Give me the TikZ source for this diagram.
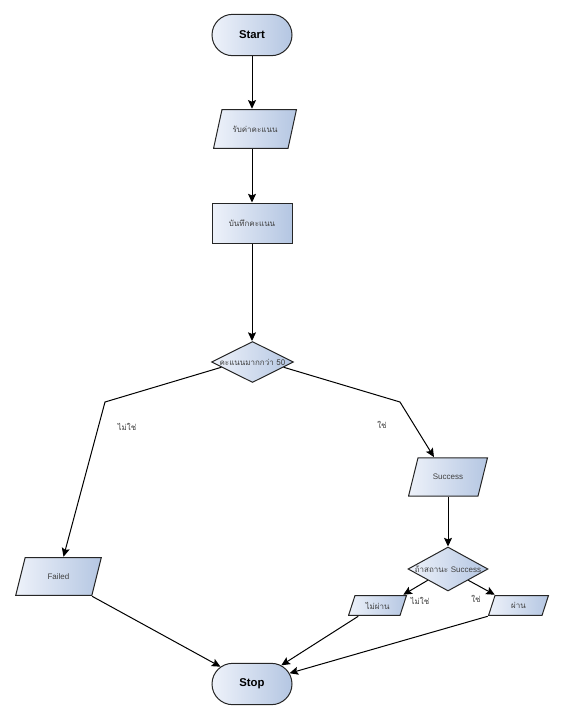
\documentclass[tikz,border=0pt]{standalone}
\usepackage{fontspec}
\setmainfont{Liberation Sans}
\newfontfamily\thai[Script=Thai]{Loma}
\usetikzlibrary{shapes.geometric,shapes.misc,arrows.meta,calc}
\definecolor{fillL}{HTML}{EEF2FA}
\definecolor{fillR}{HTML}{B4C6E2}
\definecolor{txt}{HTML}{404040}
\begin{document}
\begin{tikzpicture}[x=0.75pt,y=-0.75pt,
  base/.style={draw=black!85, line width=0.75pt, left color=fillL, right color=fillR,
               inner sep=0pt, font=\thai\fontsize{6}{7}\selectfont, text=txt},
  term/.style={base, rounded rectangle, minimum width=60pt, minimum height=31pt,
               font=\fontsize{8.5}{10}\selectfont\bfseries, text=black},
  proc/.style={base, rectangle, minimum width=60pt, minimum height=30pt},
  io/.style n args={3}{inner sep=0pt, minimum width=#1, minimum height=#2,
      font=\thai\fontsize{6}{7}\selectfont, text=txt,
      path picture={\path[draw=black!85, line width=0.75pt, left color=fillL, right color=fillR]
        ([shift={(#3,-0.4pt)}]path picture bounding box.north west)
        -- ([shift={(-0.4pt,-0.4pt)}]path picture bounding box.north east)
        -- ([shift={(-#3,0.4pt)}]path picture bounding box.south east)
        -- ([shift={(0.4pt,0.4pt)}]path picture bounding box.south west) -- cycle;}},
  dec/.style={base, diamond},
  conn/.style={line width=0.75pt, -{Stealth[length=6.5pt,width=6pt,inset=1.2pt]}},
  lab/.style={font=\thai\fontsize{6}{7}\selectfont, text=txt}
]
\fill[white] (0,0) rectangle (564,718);
\useasboundingbox (0,0) rectangle (564,718);

\node[term] (start) at (252,35) {Start};
\node[io={63pt}{30pt}{6.75pt}] (input) at (255,129) {รับค่าคะแนน};
\node[proc] (process) at (252,223) {บันทึกคะแนน};
\node[dec, minimum width=61.5pt, minimum height=30.75pt,
      label={[lab]center:คะแนนมากกว่า 50}] (d1) at (252.5,362) {};
\node[io={60pt}{29.5pt}{7.5pt}] (success) at (448,477) {\rmfamily Success};
\node[io={65pt}{29.25pt}{7.5pt}] (failed) at (58.5,576.5) {\rmfamily Failed};
\node[dec, minimum width=60pt, minimum height=33pt,
      label={[lab]center:ถ้าสถานะ {\rmfamily Success}}] (d2) at (448,569) {};
\node[io={44.25pt}{15.75pt}{5.25pt}] (nopass) at (377.5,605.5) {ไม่ผ่าน};
\node[io={45.75pt}{15.75pt}{5.25pt}] (pass) at (518.5,605.5) {ผ่าน};
\node[term] (stop) at (252,684) {Stop};

\coordinate (b1) at (105,402);
\coordinate (b2) at (400,402);

\draw[conn] (start.south) -- (start.south |- input.north);
\draw[conn] (process.north |- input.south) -- (process.north);
\draw[conn] (process.south) -- (process.south |- d1.north);
\draw[conn] ($(d1.west)!0.25!(d1.south)$) -- (b1) -- ([xshift=3.75pt]failed.north);
\draw[conn] ($(d1.east)!0.25!(d1.south)$) -- (b2)
   -- ($([xshift=7.5pt]success.north west)!0.23!(success.north east)$);
\draw[conn] (success.south) -- (d2.north);
\draw[conn] ($(d2.west)!0.5!(d2.south)$) -- ([xshift=-3pt]nopass.north east);
\draw[conn] ($(d2.east)!0.5!(d2.south)$) -- ([xshift=5.25pt]pass.north west);
\draw[conn] ([xshift=-7.5pt]failed.south east) -- (stop);
\draw[conn] ($(nopass.south west)!0.2!([xshift=-5.25pt]nopass.south east)$) -- (stop);
\draw[conn] (pass.south west) -- (stop);

\node[lab] (l1) at (127,427) {ไม่ใช่};
\node[lab] (l2) at (382,425) {ใช่};
\node[lab] (l3) at (420,601) {ไม่ใช่};
\node[lab] (l4) at (476,599) {ใช่};
\end{tikzpicture}
\end{document}
